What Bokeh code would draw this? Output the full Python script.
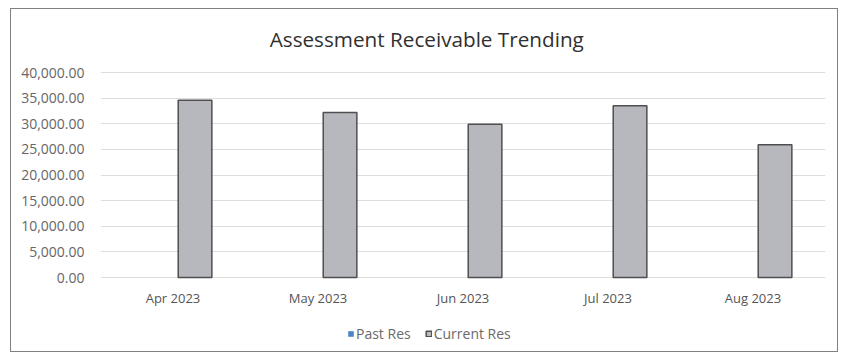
from bokeh.plotting import figure
from bokeh.models import (FactorRange, Range1d, NumeralTickFormatter, FixedTicker,
                          Legend, LegendItem, Label, ColumnDataSource)
from bokeh.transform import dodge
from bokeh.embed import file_html
from bokeh.resources import INLINE

months = ["Apr 2023", "May 2023", "Jun 2023", "Jul 2023", "Aug 2023"]
past_res = [0, 0, 0, 0, 0]
current_res = [34600, 32200, 29900, 33500, 25900]
series_names = ["Past Res", "Current Res"]
title_text = "Assessment Receivable Trending"
y_ticks = [0, 5000, 10000, 15000, 20000, 25000, 30000, 35000, 40000]

FONT = "Open Sans"

# layout (pixels): the 0..40000 band is 205 px tall; the frame extends
# 63 px above 40000 (title area) and 71 px below zero (labels + legend area)
band_px = 205
above_px = 63
below_px = 71
y_top_tick = 40000
per_px = y_top_tick / band_px
y_min = -below_px * per_px
y_max = y_top_tick + above_px * per_px

src = ColumnDataSource(data=dict(month=months, past=past_res, current=current_res))

p = figure(width=828, height=344, x_range=FactorRange(*months, range_padding=0),
           y_range=Range1d(y_min, y_max), output_backend="svg", toolbar_location=None,
           min_border_left=89, min_border_right=14, min_border_top=0, min_border_bottom=5)
p.styles = {"border": "1px solid #808080", "margin": "8px 0 0 10px"}
p.outline_line_color = None
p.background_fill_color = "white"
p.border_fill_color = "white"

title = Label(x=2.25, y=y_top_tick + 34 * per_px, text=title_text, text_align="center",
              text_baseline="alphabetic", text_font=FONT, text_font_size="20.7px",
              text_color="#303030")
p.add_layout(title)

r_past = p.vbar(x=dodge("month", -0.152, range=p.x_range), top="past", width=0.232, source=src,
                fill_color="#4f84c4", line_color=None)
r_cur = p.vbar(x=dodge("month", 0.152, range=p.x_range), top="current", width=0.232, source=src,
               fill_color="#b6b8be", line_color="#4f4f4f", line_width=1.5)

p.yaxis.ticker = FixedTicker(ticks=y_ticks)
p.yaxis.formatter = NumeralTickFormatter(format="0,0.00")
p.yaxis.axis_line_color = None
p.yaxis.major_tick_line_color = None
p.yaxis.minor_tick_line_color = None
p.yaxis.major_tick_out = 0
p.yaxis.major_label_standoff = 16
p.yaxis.major_label_text_font = FONT
p.yaxis.major_label_text_font_size = "14px"
p.yaxis.major_label_text_color = "#666666"

p.xaxis.axis_line_color = None
p.xaxis.major_tick_line_color = None
p.xaxis.minor_tick_line_color = None
p.xaxis.major_tick_out = 0
p.xaxis.major_label_standoff = -(below_px - 11)
p.xaxis.major_label_text_font = FONT
p.xaxis.major_label_text_font_size = "13px"
p.xaxis.major_label_text_color = "#555555"

p.xgrid.grid_line_color = None
p.ygrid.grid_line_color = "#dedede"
p.ygrid.grid_line_width = 1

legend = Legend(items=[LegendItem(label=series_names[0], renderers=[r_past]),
                       LegendItem(label=series_names[1], renderers=[r_cur])],
                orientation="horizontal", location=(247, 5),
                glyph_width=7, glyph_height=7, label_standoff=2, spacing=14, padding=0, margin=0,
                border_line_color=None, background_fill_alpha=0,
                label_text_font=FONT, label_text_font_size="14px", label_text_color="#6a6a6a")
p.add_layout(legend)

open("out.html", "w").write(file_html(p, INLINE))
